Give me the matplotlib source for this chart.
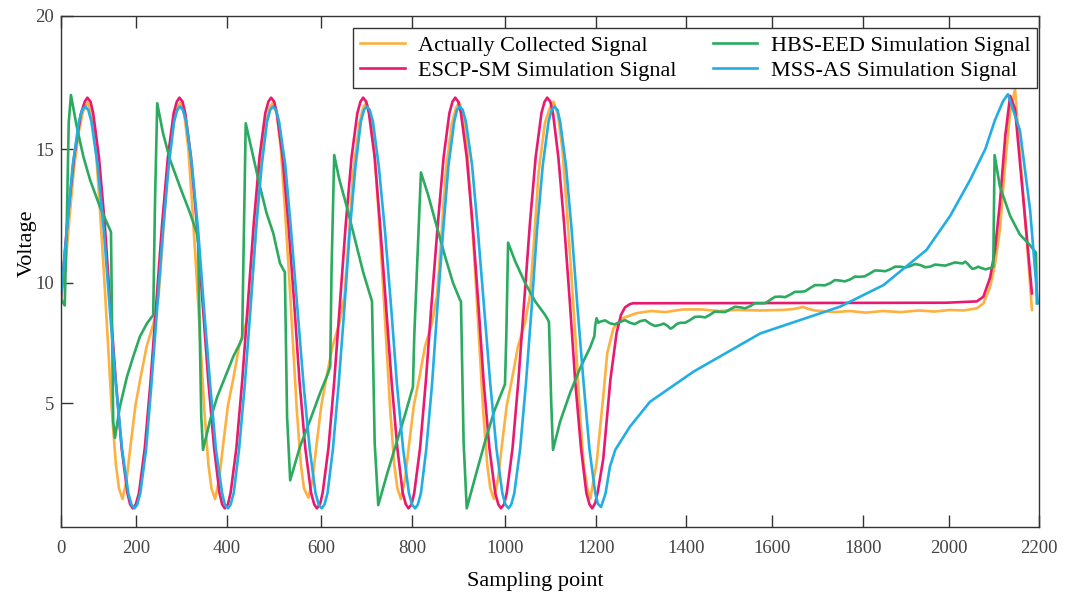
import matplotlib
matplotlib.use("Agg")
import matplotlib.pyplot as plt

# ---- data (x in sampling points, y in volts) ----
orange_x = [0, 10, 20, 30, 40, 50, 61,
            70, 79, 88, 97, 106, 115, 124, 131, 139, 148, 157, 168, 179, 193, 209, 220, 229, 240, 254, 262, 269,
            278, 287, 296, 305, 314, 323, 332, 339, 347, 356, 365, 376, 388, 401, 417, 428, 437, 448, 462, 470, 477,
            486, 495, 504, 513, 522, 531, 540, 547, 557, 566, 575, 586, 597, 611, 627, 638, 647, 658, 672, 680, 687,
            696, 705, 714, 723, 732, 741, 750, 757, 765, 774, 783, 794, 806, 819, 835, 846, 855, 866, 880, 889, 896,
            905, 914, 923, 932, 941, 950, 959, 966, 974, 983, 992, 1003, 1015, 1028, 1044, 1055, 1064, 1075, 1089, 1100, 1108,
            1118, 1128, 1138, 1148, 1158, 1167, 1176, 1184, 1191,
            1205, 1220, 1229, 1243, 1265, 1295, 1327, 1360, 1400, 1440, 1480, 1520, 1572, 1624, 1650,
            1669, 1685, 1696, 1740, 1775, 1810, 1849, 1890, 1930, 1965, 2000, 2030, 2060, 2075, 2090,
            2101, 2112, 2124, 2135, 2146, 2157, 2171, 2184]
orange_y = [9.3, 10.5, 12.5, 14.3, 15.6, 16.4, 16.75,
            16.3, 15.0, 12.8, 10.4, 7.8, 5.2, 3.2, 2.3, 1.9, 2.6, 3.9, 5.4, 6.4, 7.6, 8.5, 9.5, 11.5, 14.2, 16.0, 16.55, 16.75,
            16.3, 15.0, 12.8, 10.4, 7.8, 5.2, 3.2, 2.3, 1.9, 2.6, 3.9, 5.4, 6.4, 7.6, 8.5, 9.5, 11.5, 14.2, 16.0, 16.55, 16.75,
            16.3, 15.0, 12.8, 10.4, 7.8, 5.2, 3.2, 2.3, 1.95, 2.6, 3.9, 5.4, 6.4, 7.6, 8.5, 9.5, 11.5, 14.2, 16.0, 16.55, 16.75,
            16.3, 15.0, 12.8, 10.4, 7.8, 5.2, 3.2, 2.3, 1.9, 2.6, 3.9, 5.4, 6.4, 7.6, 8.5, 9.5, 11.5, 14.2, 16.0, 16.55, 16.75,
            16.3, 15.0, 12.8, 10.4, 7.8, 5.2, 3.2, 2.3, 1.9, 2.6, 3.9, 5.4, 6.4, 7.6, 8.5, 9.5, 11.5, 14.2, 16.0, 16.55, 16.78,
            16.3, 15.0, 12.8, 10.4, 7.8, 5.2, 3.2, 2.3, 1.92,
            3.25, 5.73, 7.37, 8.3, 8.68, 8.86, 8.94, 8.9, 9.0, 9.0, 8.94, 8.98, 8.96, 8.98, 9.02,
            9.09, 9.0, 8.96, 8.9, 8.94, 8.88, 8.94, 8.9, 8.96, 8.92, 8.98, 8.96, 9.04, 9.23, 9.85,
            10.7, 12.0, 14.5, 16.4, 17.24, 14.8, 11.9, 8.98]

pink_x = [0, 15, 30, 45, 54,
          60, 67, 73, 86, 99, 111, 124, 137, 150, 156,
          162, 169, 176, 189, 202, 215, 228, 241, 254, 261,
          267, 274, 280, 293, 306, 319, 332, 345, 357, 363,
          369, 376, 382, 395, 408, 421, 434, 447, 460, 467,
          473, 480, 486, 499, 512, 525, 537, 550, 563, 570,
          576, 583, 589, 602, 615, 628, 641, 654, 667, 674,
          680, 687, 693, 706, 718, 731, 744, 757, 769, 776,
          782, 789, 795, 808, 821, 834, 848, 861, 874, 881,
          887, 894, 900, 913, 926, 939, 951, 964, 977, 984,
          990, 997, 1003, 1016, 1029, 1042, 1055, 1068, 1081, 1088,
          1094, 1101, 1107, 1119, 1132, 1145, 1157, 1170, 1182, 1189,
          1195, 1202, 1208, 1220, 1236, 1250, 1260, 1269, 1280, 1287, 1990, 2060,
          2075, 2090, 2101, 2112, 2124, 2135, 2146, 2157, 2171, 2184]
pink_y = [9.3, 12.3, 14.7, 16.3, 16.78,
          16.93, 16.78, 16.35, 14.7, 12.2, 9.24, 6.3, 3.8, 2.13, 1.70,
          1.55, 1.70, 2.13, 3.8, 6.3, 9.24, 12.2, 14.7, 16.35, 16.78,
          16.93, 16.78, 16.35, 14.7, 12.2, 9.24, 6.3, 3.8, 2.13, 1.70,
          1.55, 1.70, 2.13, 3.8, 6.3, 9.24, 12.2, 14.7, 16.35, 16.78,
          16.93, 16.78, 16.35, 14.7, 12.2, 9.24, 6.3, 3.8, 2.13, 1.70,
          1.55, 1.70, 2.13, 3.8, 6.3, 9.24, 12.2, 14.7, 16.35, 16.78,
          16.93, 16.78, 16.35, 14.7, 12.2, 9.24, 6.3, 3.8, 2.13, 1.70,
          1.55, 1.70, 2.13, 3.8, 6.3, 9.24, 12.2, 14.7, 16.35, 16.78,
          16.93, 16.78, 16.35, 14.7, 12.2, 9.24, 6.3, 3.8, 2.13, 1.70,
          1.55, 1.70, 2.13, 3.8, 6.3, 9.24, 12.2, 14.7, 16.35, 16.78,
          16.93, 16.78, 16.35, 14.7, 12.2, 9.24, 6.3, 3.8, 2.13, 1.70,
          1.55, 1.75, 2.2, 3.4, 6.36, 8.12, 8.8, 9.08, 9.2, 9.23, 9.25, 9.3,
          9.48, 10.2, 11.23, 13.0, 15.5, 17.0, 16.5, 14.5, 12.0, 9.6]

green_x = [0, 9, 14, 18, 23, 36, 51, 66, 88, 111, 113,
           118, 122, 133, 149, 163, 178, 194, 208, 212, 217,
           230, 246, 268, 291, 306, 309, 316, 320, 336, 352, 370, 388, 403, 408, 410, 416,
           433, 448, 463, 478, 493, 501, 504, 509, 516, 538, 561, 583, 601, 606, 609, 615,
           626, 644, 662, 680, 698, 700, 706, 714, 735, 755, 775, 792, 795, 810,
           826, 844, 864, 882, 898, 900, 906, 913, 935, 955, 975, 999, 1002, 1006,
           1022, 1044, 1067, 1089, 1096, 1098, 1103, 1107, 1123, 1146, 1168, 1191, 1200, 1202,
           1205, 1209, 1213, 1224, 1235, 1246, 1258, 1269, 1280, 1291,
           1303, 1314, 1325, 1336, 1348, 1356, 1365, 1371, 1377, 1385,
           1393, 1404, 1415, 1426, 1438, 1449, 1460, 1471, 1483, 1494,
           1505, 1516, 1528, 1539, 1550, 1561, 1573, 1584, 1595, 1606,
           1618, 1629, 1640, 1651, 1663, 1674, 1685, 1696, 1707, 1718,
           1730, 1741, 1752, 1763, 1775, 1786, 1797, 1808, 1820, 1831,
           1843, 1854, 1865, 1876, 1888, 1899, 1910, 1921, 1933, 1944,
           1955, 1966, 1978, 1989, 2000, 2011, 2023, 2028, 2034, 2040,
           2045, 2050, 2056, 2063, 2070, 2080, 2090, 2097,
           2100, 2112, 2135, 2157, 2180, 2193, 2195]
green_y = [9.4, 9.15, 12.5, 16.0, 17.03, 15.85, 14.72, 13.85, 12.85, 11.97, 11.9,
           4.8, 4.19, 5.36, 6.48, 7.23, 7.98, 8.48, 8.79, 13.0, 16.72,
           15.6, 14.6, 13.6, 12.6, 11.86, 11.5, 5.0, 3.74, 4.86, 5.73, 6.48, 7.23, 7.73, 7.92, 10.0, 15.97,
           14.72, 13.6, 12.6, 11.85, 10.73, 10.48, 10.4, 5.0, 2.6, 3.86, 4.86, 5.86, 6.6, 6.87, 10.5, 14.78,
           13.9, 12.8, 11.6, 10.4, 9.4, 9.3, 4.0, 1.67, 2.9, 4.0, 5.1, 6.1, 8.0, 14.13,
           13.3, 12.2, 11.0, 10.0, 9.35, 9.3, 4.0, 1.55, 2.9, 4.1, 5.2, 6.2, 8.0, 11.5,
           10.8, 10.0, 9.3, 8.8, 8.6, 8.5, 5.5, 3.74, 4.8, 5.9, 6.8, 7.6, 8.0, 8.4,
           8.67, 8.5, 8.54, 8.59, 8.48, 8.44, 8.53, 8.6, 8.5, 8.45,
           8.56, 8.6, 8.47, 8.38, 8.42, 8.47, 8.38, 8.28, 8.33, 8.45,
           8.5, 8.5, 8.6, 8.72, 8.73, 8.7, 8.8, 8.92, 8.91, 8.9,
           9.0, 9.1, 9.08, 9.04, 9.12, 9.23, 9.23, 9.23, 9.35, 9.47,
           9.48, 9.46, 9.55, 9.66, 9.66, 9.68, 9.8, 9.91, 9.91, 9.9,
           9.98, 10.1, 10.08, 10.05, 10.12, 10.23, 10.22, 10.24, 10.35, 10.46,
           10.45, 10.43, 10.5, 10.6, 10.6, 10.57, 10.62, 10.7, 10.66, 10.58,
           10.6, 10.68, 10.66, 10.64, 10.7, 10.76, 10.73, 10.72, 10.79, 10.7,
           10.6, 10.52, 10.54, 10.6, 10.55, 10.5, 10.55, 10.6,
           14.78, 13.6, 12.5, 11.8, 11.4, 11.12, 9.23]

blue_x = [0, 14, 27, 41, 48,
          55, 62, 69, 83, 97, 110, 124, 138, 152, 159,
          166, 172, 179, 192, 204, 217, 230, 243, 255, 262,
          268, 275, 282, 295, 309, 322, 336, 349, 363, 369,
          376, 382, 389, 401, 414, 427, 439, 452, 464, 471,
          477, 484, 491, 505, 518, 532, 546, 560, 573, 580,
          587, 593, 600, 612, 625, 638, 650, 663, 675, 682,
          688, 695, 702, 715, 729, 743, 756, 770, 783, 790,
          797, 803, 810, 822, 835, 847, 860, 872, 885, 891,
          897, 904, 911, 925, 938, 952, 966, 980, 993, 1000,
          1007, 1013, 1020, 1033, 1046, 1059, 1071, 1084, 1097, 1104,
          1110, 1117, 1123, 1136, 1149, 1162, 1176, 1189, 1202, 1208,
          1215, 1225, 1235, 1247, 1280, 1325, 1423, 1573, 1752, 1850, 1947, 2000, 2045, 2079, 2101,
          2119, 2130, 2157, 2180, 2197]
blue_y = [9.4, 12.0, 14.4, 16.04, 16.47,
          16.6, 16.47, 16.04, 14.4, 11.96, 9.08, 6.2, 3.76, 2.12, 1.69,
          1.55, 1.69, 2.12, 3.76, 6.2, 9.08, 11.96, 14.4, 16.04, 16.47,
          16.6, 16.47, 16.04, 14.4, 11.96, 9.08, 6.2, 3.76, 2.12, 1.69,
          1.55, 1.69, 2.12, 3.76, 6.2, 9.08, 11.96, 14.4, 16.04, 16.47,
          16.6, 16.47, 16.04, 14.4, 11.96, 9.08, 6.2, 3.76, 2.12, 1.69,
          1.55, 1.69, 2.12, 3.76, 6.2, 9.08, 11.96, 14.4, 16.04, 16.47,
          16.6, 16.47, 16.04, 14.4, 11.96, 9.08, 6.2, 3.76, 2.12, 1.69,
          1.55, 1.69, 2.12, 3.76, 6.2, 9.08, 11.96, 14.4, 16.04, 16.47,
          16.6, 16.47, 16.04, 14.4, 11.96, 9.08, 6.2, 3.76, 2.12, 1.69,
          1.55, 1.69, 2.12, 3.76, 6.2, 9.08, 11.96, 14.4, 16.04, 16.47,
          16.6, 16.47, 16.04, 14.4, 11.96, 9.08, 6.2, 3.76, 2.12, 1.72,
          1.6, 2.1, 3.11, 3.74, 4.61, 5.54, 6.67, 8.1, 9.1, 9.91, 11.23, 12.5, 13.85, 15.0, 16.1,
          16.8, 17.06, 15.7, 12.7, 9.23]

labels = ["Actually Collected Signal", "ESCP-SM Simulation Signal",
          "HBS-EED Simulation Signal", "MSS-AS Simulation Signal"]
colors = ["#FDB140", "#E9196F", "#2BAA60", "#22AEE4"]

xtick_labels = ["0", "200", "400", "600", "800", "1000", "1200",
                "1400", "1600", "1800", "2000", "2200"]
ytick_labels = ["5", "10", "15", "20"]

plt.rcParams["font.family"] = ["Liberation Serif", "DejaVu Serif"]

fig = plt.figure(figsize=(10.69, 5.95), dpi=100)
ax = fig.add_axes([0.0568, 0.1138, 0.9152, 0.8598])

series = [(orange_x, orange_y), (pink_x, pink_y), (green_x, green_y), (blue_x, blue_y)]
for (xs, ys), lab, col in zip(series, labels, colors):
    ax.plot(xs, ys, color=col, lw=1.9, label=lab, solid_joinstyle="round")

ax.set_xlim(0, 2200)
ax.set_ylim(0.84, 20)

# tick marks sit where the reference draws them
ax.set_xticks([0, 168.7, 373.3, 585.4, 790.7, 999.2, 1203.8, 1405.5, 1599.6, 1804.9, 1998.3, 2200],
              xtick_labels)
ax.set_yticks([5.48, 10, 15, 20], ytick_labels)
ax.tick_params(axis="x", direction="in", length=8.5, width=1, top=True, pad=9,
               labelsize=13.5, labelcolor="#444444", color="#333333")
ax.tick_params(axis="y", direction="in", length=8.5, width=1, right=False, pad=5,
               labelsize=13.5, labelcolor="#444444", color="#333333")
for sp in ax.spines.values():
    sp.set_color("#333333")
    sp.set_linewidth(1.0)

ax.set_xlabel("Sampling point", fontsize=16)
ax.set_ylabel("Voltage", fontsize=16)
ax.xaxis.set_label_coords(0.485, -0.088)
ax.yaxis.set_label_coords(-0.024, 0.556)

leg = ax.legend(loc="upper right", bbox_to_anchor=(0.998, 0.975), ncol=2, fontsize=16,
                frameon=True, fancybox=False, edgecolor="#333333", framealpha=1,
                handlelength=2.0, handletextpad=0.6, columnspacing=1.65,
                borderpad=0.3, labelspacing=0.22, borderaxespad=0)
leg.get_frame().set_linewidth(1.0)

fig.savefig("out.png", dpi=100)
